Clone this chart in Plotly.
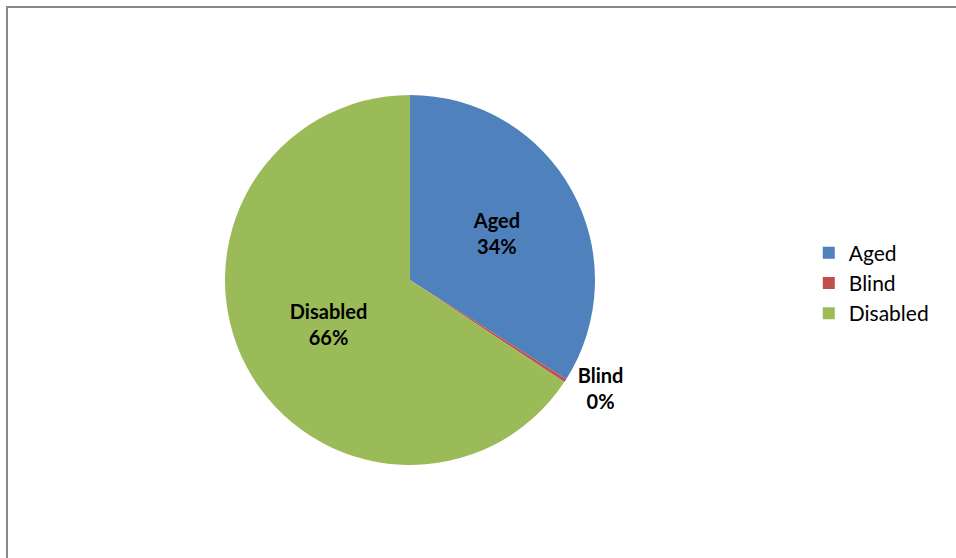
import plotly.graph_objects as go

categories = ["Aged", "Blind", "Disabled"]
values = [34.0, 0.3, 65.7]
colors = ["#4F81BD", "#C0504D", "#9BBB59"]

W, H = 956, 558
cx, cy, r = 410, 280, 185
font_family = "Lato, Open Sans, sans-serif"

fig = go.Figure(go.Pie(
    labels=categories,
    values=values,
    sort=False,
    direction="clockwise",
    rotation=0,
    marker=dict(colors=colors, line=dict(color="white", width=0)),
    textinfo="label+percent",
    texttemplate="<b>%{label}<br>%{percent:.0%}</b>",
    textposition=["inside", "outside", "inside"],
    insidetextorientation="horizontal",
    textfont=dict(family=font_family, size=20, color="black"),
    outsidetextfont=dict(family=font_family, size=20, color="black"),
    insidetextfont=dict(family=font_family, size=20, color="black"),
    domain=dict(x=[(cx - r) / W, (cx + r) / W], y=[1 - (cy + r) / H, 1 - (cy - r) / H]),
    showlegend=True,
    hoverinfo="label+percent",
))

fig.update_layout(
    width=W, height=H,
    margin=dict(l=0, r=0, t=0, b=0),
    paper_bgcolor="white",
    plot_bgcolor="white",
    legend=dict(
        x=0.846, y=1 - 283 / H, xanchor="left", yanchor="middle",
        font=dict(family=font_family, size=21, color="black"),
        itemwidth=30,
    ),
    shapes=[dict(type="rect", xref="paper", yref="paper",
                 x0=7 / W, x1=1.05, y0=-0.05, y1=1 - 7 / H,
                 line=dict(color="#888888", width=2), fillcolor="rgba(0,0,0,0)")],
)

fig.write_html("out.html")
